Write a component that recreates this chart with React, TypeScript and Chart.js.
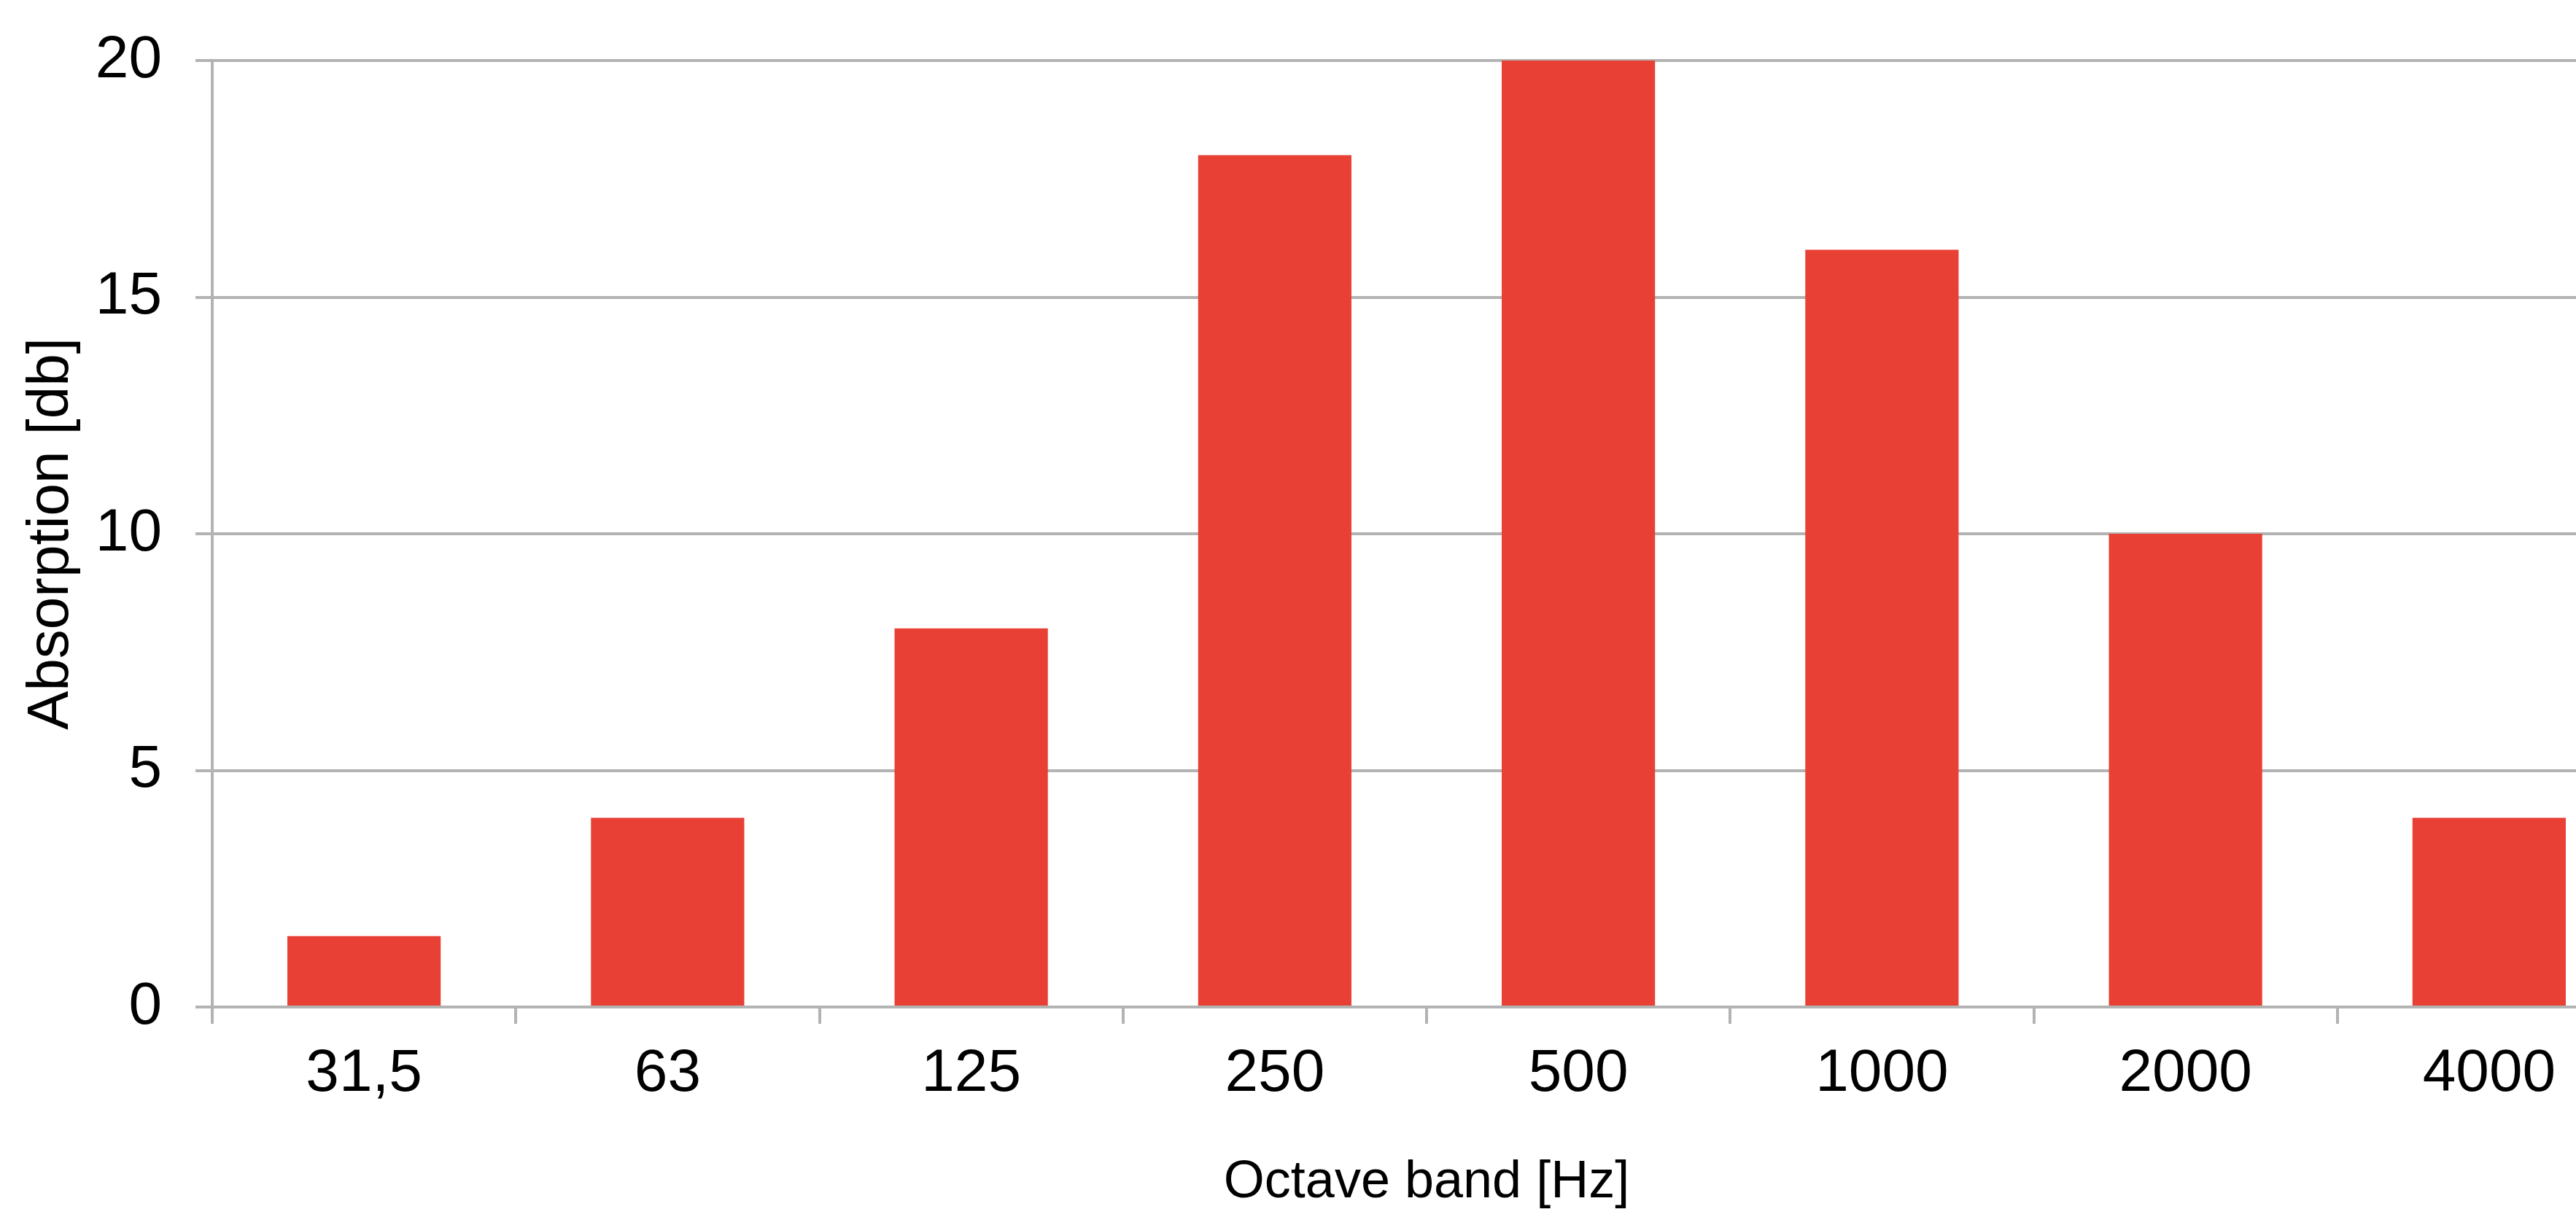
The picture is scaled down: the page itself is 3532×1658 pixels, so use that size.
import React, { useEffect, useRef } from "react";
import { Chart, registerables } from "chart.js";

Chart.register(...registerables);

const categories: string[] = ["31,5", "63", "125", "250", "500", "1000", "2000", "4000"];
const absorption: number[] = [1.5, 4, 8, 18, 20, 16, 10, 4];
const yTicks: number[] = [0, 5, 10, 15, 20];
const xTitle = "Octave band [Hz]";
const yTitle = "Absorption [db]";

const FONT = "'Liberation Sans', Arial, Helvetica, sans-serif";
const GRID = "#b3b3b3";
const BAR = "#e84034";

export default function App() {
  const ref = useRef<HTMLCanvasElement | null>(null);

  useEffect(() => {
    if (!ref.current) return;
    const chart = new Chart(ref.current, {
      type: "bar",
      data: {
        labels: categories,
        datasets: [
          {
            data: absorption,
            backgroundColor: BAR,
            borderWidth: 0,
            barPercentage: 0.505,
            categoryPercentage: 1,
          },
        ],
      },
      options: {
        animation: false,
        responsive: false,
        devicePixelRatio: 1,
        layout: { padding: { top: 83, left: 0, right: 0, bottom: 0 } },
        plugins: { legend: { display: false }, tooltip: { enabled: false } },
        scales: {
          x: {
            offset: true,
            grid: {
              offset: true,
              drawOnChartArea: false,
              drawTicks: true,
              tickLength: 23,
              color: GRID,
              lineWidth: 4,
            },
            border: { display: true, color: GRID, width: 4 },
            ticks: {
              color: "#000",
              padding: 20,
              font: { family: FONT, size: 82 },
              maxRotation: 0,
              autoSkip: false,
            },
            title: {
              display: true,
              text: xTitle,
              color: "#000",
              font: { family: FONT, size: 72, lineHeight: 1 },
              padding: { top: 0, bottom: 0 },
            },
            afterFit: (scale: any) => {
              scale.height = 277;
            },
          },
          y: {
            min: 0,
            max: 20,
            afterBuildTicks: (scale: any) => {
              scale.ticks = yTicks.map((v) => ({ value: v }));
            },
            grid: {
              drawOnChartArea: true,
              drawTicks: true,
              tickLength: 23,
              color: GRID,
              lineWidth: 4,
            },
            border: { display: true, color: GRID, width: 4 },
            ticks: {
              color: "#000",
              padding: 46,
              font: { family: FONT, size: 82, lineHeight: 0.9 },
            },
            title: {
              display: true,
              text: yTitle,
              color: "#000",
              font: { family: FONT, size: 80, lineHeight: 1 },
              padding: { top: 31, bottom: 0 },
            },
            afterFit: (scale: any) => {
              scale.width = 291;
            },
          },
        },
      },
    });
    return () => chart.destroy();
  }, []);

  return (
    <div
      style={{
        position: "fixed",
        left: 0,
        top: 0,
        width: "3532px",
        height: "1658px",
        overflow: "hidden",
        background: "#fff",
      }}
    >
      <canvas
        ref={ref}
        width={3621}
        height={1658}
        style={{ display: "block", width: "3621px", height: "1658px" }}
      />
    </div>
  );
}
